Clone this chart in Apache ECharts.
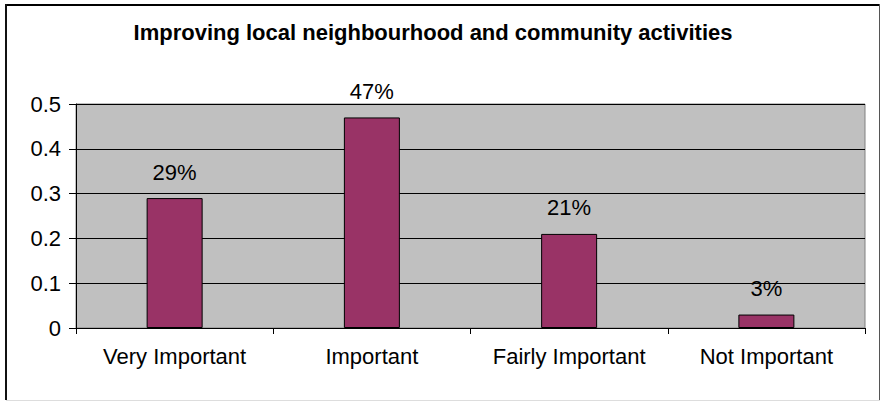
<!DOCTYPE html>
<html>
<head>
<meta charset="utf-8">
<script src="https://cdn.jsdelivr.net/npm/echarts@6/dist/echarts.min.js"></script>
<style>
  html, body { margin: 0; padding: 0; background: #fff; overflow: hidden; }
  #chart { width: 882px; height: 401px; }
</style>
</head>
<body>
<div id="chart"></div>
<script>
// Survey answers: share of respondents per importance rating
const chartTitle = 'Improving local neighbourhood and community activities';
const categories = ['Very Important', 'Important', 'Fairly Important', 'Not Important'];
const shares = [0.29, 0.47, 0.21, 0.03];
const yTicks = [0, 0.1, 0.2, 0.3, 0.4, 0.5];

const FONT = '"Liberation Sans", Arial, sans-serif';
const chart = echarts.init(document.getElementById('chart'), null, { renderer: 'svg' });

chart.setOption({
  animation: false,
  backgroundColor: '#ffffff',
  title: {
    text: chartTitle,
    left: 428,
    top: 16,
    textAlign: 'center',
    textStyle: { fontFamily: FONT, fontSize: 22, fontWeight: 'bold', color: '#000' }
  },
  grid: {
    left: 76, right: 17, top: 104, bottom: 73,
    show: true,
    backgroundColor: '#c0c0c0',
    borderColor: '#808080',
    borderWidth: 1
  },
  xAxis: {
    type: 'category',
    data: categories,
    boundaryGap: true,
    axisLine: { lineStyle: { color: '#000', width: 1 } },
    axisTick: { show: true, interval: 0, length: 6, lineStyle: { color: '#000' } },
    axisLabel: { interval: 0, fontFamily: FONT, fontSize: 22, color: '#000', margin: 17 }
  },
  yAxis: {
    type: 'value',
    min: yTicks[0],
    max: yTicks[yTicks.length - 1],
    interval: 0.1,
    axisLine: { show: true, lineStyle: { color: '#000', width: 1 } },
    axisTick: { show: true, length: 7, lineStyle: { color: '#000' } },
    axisLabel: {
      fontFamily: FONT, fontSize: 22, color: '#000', margin: 15,
      formatter: v => String(Math.round(v * 10) / 10)
    },
    splitLine: { show: true, lineStyle: { color: '#000', width: 1 } }
  },
  series: [{
    type: 'bar',
    data: shares,
    barWidth: 56,
    itemStyle: { color: '#993366', borderColor: '#000', borderWidth: 1 },
    label: {
      show: true,
      position: 'top',
      distance: 15,
      fontFamily: FONT, fontSize: 22, color: '#000',
      formatter: p => Math.round(p.value * 100) + '%'
    }
  }],
  graphic: [
    // outer chart frame
    { type: 'line', shape: { x1: 6, y1: 5, x2: 879, y2: 5 }, style: { stroke: '#000', lineWidth: 2 } },
    { type: 'line', shape: { x1: 6, y1: 4, x2: 6, y2: 400 }, style: { stroke: '#111', lineWidth: 2 } },
    { type: 'line', shape: { x1: 879.5, y1: 4, x2: 879.5, y2: 400 }, style: { stroke: '#555', lineWidth: 1 } },
    { type: 'line', shape: { x1: 6, y1: 400.5, x2: 880, y2: 400.5 }, style: { stroke: '#ddd', lineWidth: 1 } }
  ]
});
</script>
</body>
</html>
